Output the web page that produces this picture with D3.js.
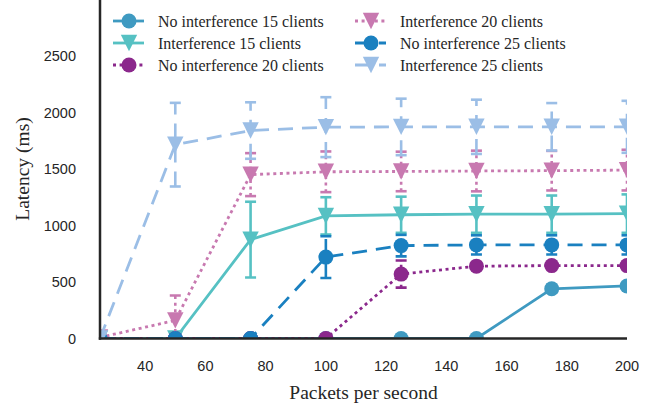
<!DOCTYPE html>
<html>
<head>
<meta charset="utf-8">
<script src="https://cdn.jsdelivr.net/npm/d3@7"></script>
<style>
  html, body { margin: 0; padding: 0; background: #fff; }
  svg { display: block; }
</style>
</head>
<body>
<svg id="chart" width="664" height="408"></svg>
<script>
// Packet rates on the x axis
const packetRates = [25, 50, 75, 100, 125, 150, 175, 200];

// Mean latency (ms) per configuration
const noInterference15 = [0, 0, 0, 0, 0, 0, 440, 465];
const interference15   = [0, 0, 875, 1085, 1095, 1100, 1100, 1105];
const noInterference20 = [0, 0, 0, 0, 570, 640, 645, 645];
const interference20   = [10, 160, 1450, 1475, 1478, 1482, 1485, 1490];
const noInterference25 = [0, 0, 0, 720, 822, 828, 828, 828];
const interference25   = [0, 1715, 1840, 1870, 1872, 1873, 1873, 1873];

// Standard deviation of latency (ms)
const noInterference15Err = [0, 0, 0, 0, 0, 0, 35, 20];
const interference15Err   = [0, 0, 335, 165, 160, 165, 165, 170];
const noInterference20Err = [0, 0, 0, 0, 120, 20, 15, 15];
const interference20Err   = [0, 220, 190, 180, 175, 180, 175, 180];
const noInterference25Err = [0, 0, 0, 185, 95, 85, 85, 85];
const interference25Err   = [0, 370, 250, 265, 250, 240, 210, 230];

const yTicks = [0, 500, 1000, 1500, 2000, 2500];
const xTicks = [40, 60, 80, 100, 120, 140, 160, 180, 200];

const seriesLabels = [
  "No interference 15 clients", "Interference 15 clients",
  "No interference 20 clients", "Interference 20 clients",
  "No interference 25 clients", "Interference 25 clients"
];

const series = [
  { label: seriesLabels[0], values: noInterference15, errors: noInterference15Err, color: "#3f9ac1", dash: null, marker: "circle" },
  { label: seriesLabels[1], values: interference15, errors: interference15Err, color: "#56c1c3", dash: null, marker: "tri" },
  { label: seriesLabels[2], values: noInterference20, errors: noInterference20Err, color: "#8b288c", dash: "3,3.6", marker: "circle" },
  { label: seriesLabels[3], values: interference20, errors: interference20Err, color: "#c879b0", dash: "3,3.6", marker: "tri" },
  { label: seriesLabels[4], values: noInterference25, errors: noInterference25Err, color: "#1a80c0", dash: "15,9", marker: "circle" },
  { label: seriesLabels[5], values: interference25, errors: interference25Err, color: "#9bbee6", dash: "15,9", marker: "tri" }
];

const svg = d3.select("#chart");
const plotLeft = 100, plotRight = 627, plotTop = 0, plotBottom = 338.5;

const x = d3.scaleLinear().domain([25, 200]).range([plotLeft, plotRight]);
const y = d3.scaleLinear().domain([0, 2995]).range([plotBottom, plotTop]);

const serif = "'Liberation Serif', 'Times New Roman', serif";
const sans = "'Liberation Sans', Arial, sans-serif";

svg.append("defs").append("clipPath").attr("id", "plotClip")
  .append("rect").attr("x", plotLeft).attr("y", plotTop)
  .attr("width", plotRight - plotLeft).attr("height", plotBottom - plotTop);

const plot = svg.append("g").attr("clip-path", "url(#plotClip)");

const R = 7.5;      // circle radius
const T = 8.2;      // half size of the down-pointing triangle
function markerPath(kind) {
  if (kind === "circle") {
    return `M${R},0A${R},${R} 0 1,1 ${-R},0A${R},${R} 0 1,1 ${R},0Z`;
  }
  return `M${-T},${-T}L${T},${-T}L0,${T}Z`;
}

const line = d3.line().x(d => x(d[0])).y(d => y(d[1]));

series.forEach(s => {
  const pts = packetRates.map((p, i) => [p, s.values[i], s.errors[i]]);
  const g = plot.append("g");

  // error bars: the bar shares the series line style, caps are solid
  const bars = g.selectAll(".err").data(pts.filter(d => d[2] > 0)).enter().append("g");
  bars.append("line")
    .attr("x1", d => x(d[0])).attr("x2", d => x(d[0]))
    .attr("y1", d => y(d[1] - d[2])).attr("y2", d => y(d[1] + d[2]))
    .attr("stroke", s.color).attr("stroke-width", 2.6)
    .attr("stroke-dasharray", s.dash);
  [-1, 1].forEach(sign => {
    bars.append("line")
      .attr("x1", d => x(d[0]) - 5.5).attr("x2", d => x(d[0]) + 5.5)
      .attr("y1", d => y(d[1] + sign * d[2])).attr("y2", d => y(d[1] + sign * d[2]))
      .attr("stroke", s.color).attr("stroke-width", 2.6);
  });

  g.append("path").datum(pts).attr("d", line)
    .attr("fill", "none").attr("stroke", s.color).attr("stroke-width", 2.8)
    .attr("stroke-dasharray", s.dash);

  g.selectAll(".mk").data(pts).enter().append("path")
    .attr("d", markerPath(s.marker))
    .attr("transform", d => `translate(${x(d[0])},${y(d[1])})`)
    .attr("fill", s.color);
});

// spines
svg.append("line").attr("x1", plotLeft).attr("x2", plotLeft).attr("y1", 0).attr("y2", plotBottom + 1.2)
  .attr("stroke", "#262626").attr("stroke-width", 2.5);
svg.append("line").attr("x1", plotLeft - 1.2).attr("x2", plotRight).attr("y1", plotBottom).attr("y2", plotBottom)
  .attr("stroke", "#262626").attr("stroke-width", 2.5);

// tick labels (no tick marks)
svg.append("g").selectAll("text").data(yTicks).enter().append("text")
  .attr("x", 76).attr("y", d => y(d)).attr("dy", "0.35em")
  .attr("text-anchor", "end").attr("font-family", sans).attr("font-size", 14.5)
  .attr("fill", "#262626").text(d => d);

svg.append("g").selectAll("text").data(xTicks).enter().append("text")
  .attr("x", d => x(d)).attr("y", 366).attr("dy", "0.35em")
  .attr("text-anchor", "middle").attr("font-family", sans).attr("font-size", 14.5)
  .attr("fill", "#262626").text(d => d);

// axis titles
svg.append("text").attr("x", (plotLeft + plotRight) / 2).attr("y", 392).attr("dy", "0.35em")
  .attr("text-anchor", "middle").attr("font-family", serif).attr("font-size", 19.5)
  .attr("fill", "#262626").text("Packets per second");

svg.append("text").attr("transform", "translate(22,169) rotate(-90)").attr("dy", "0.35em")
  .attr("text-anchor", "middle").attr("font-family", serif).attr("font-size", 19.5)
  .attr("fill", "#262626").text("Latency (ms)");

// legend, two columns of three
const legend = svg.append("g");
series.forEach((s, i) => {
  const col = Math.floor(i / 3), row = i % 3;
  const lx = col === 0 ? 113 : 355;
  const ly = 21 + row * 22;
  const item = legend.append("g").attr("transform", `translate(${lx},${ly})`);
  item.append("line").attr("x1", 0).attr("x2", 31).attr("y1", 0).attr("y2", 0)
    .attr("stroke", s.color).attr("stroke-width", 2.8).attr("stroke-dasharray", s.dash);
  item.append("path").attr("d", markerPath(s.marker))
    .attr("transform", "translate(16,0)").attr("fill", s.color);
  item.append("text").attr("x", 45).attr("y", 0).attr("dy", "0.35em")
    .attr("font-family", serif).attr("font-size", 16).attr("fill", "#262626")
    .text(s.label);
});
</script>
</body>
</html>
